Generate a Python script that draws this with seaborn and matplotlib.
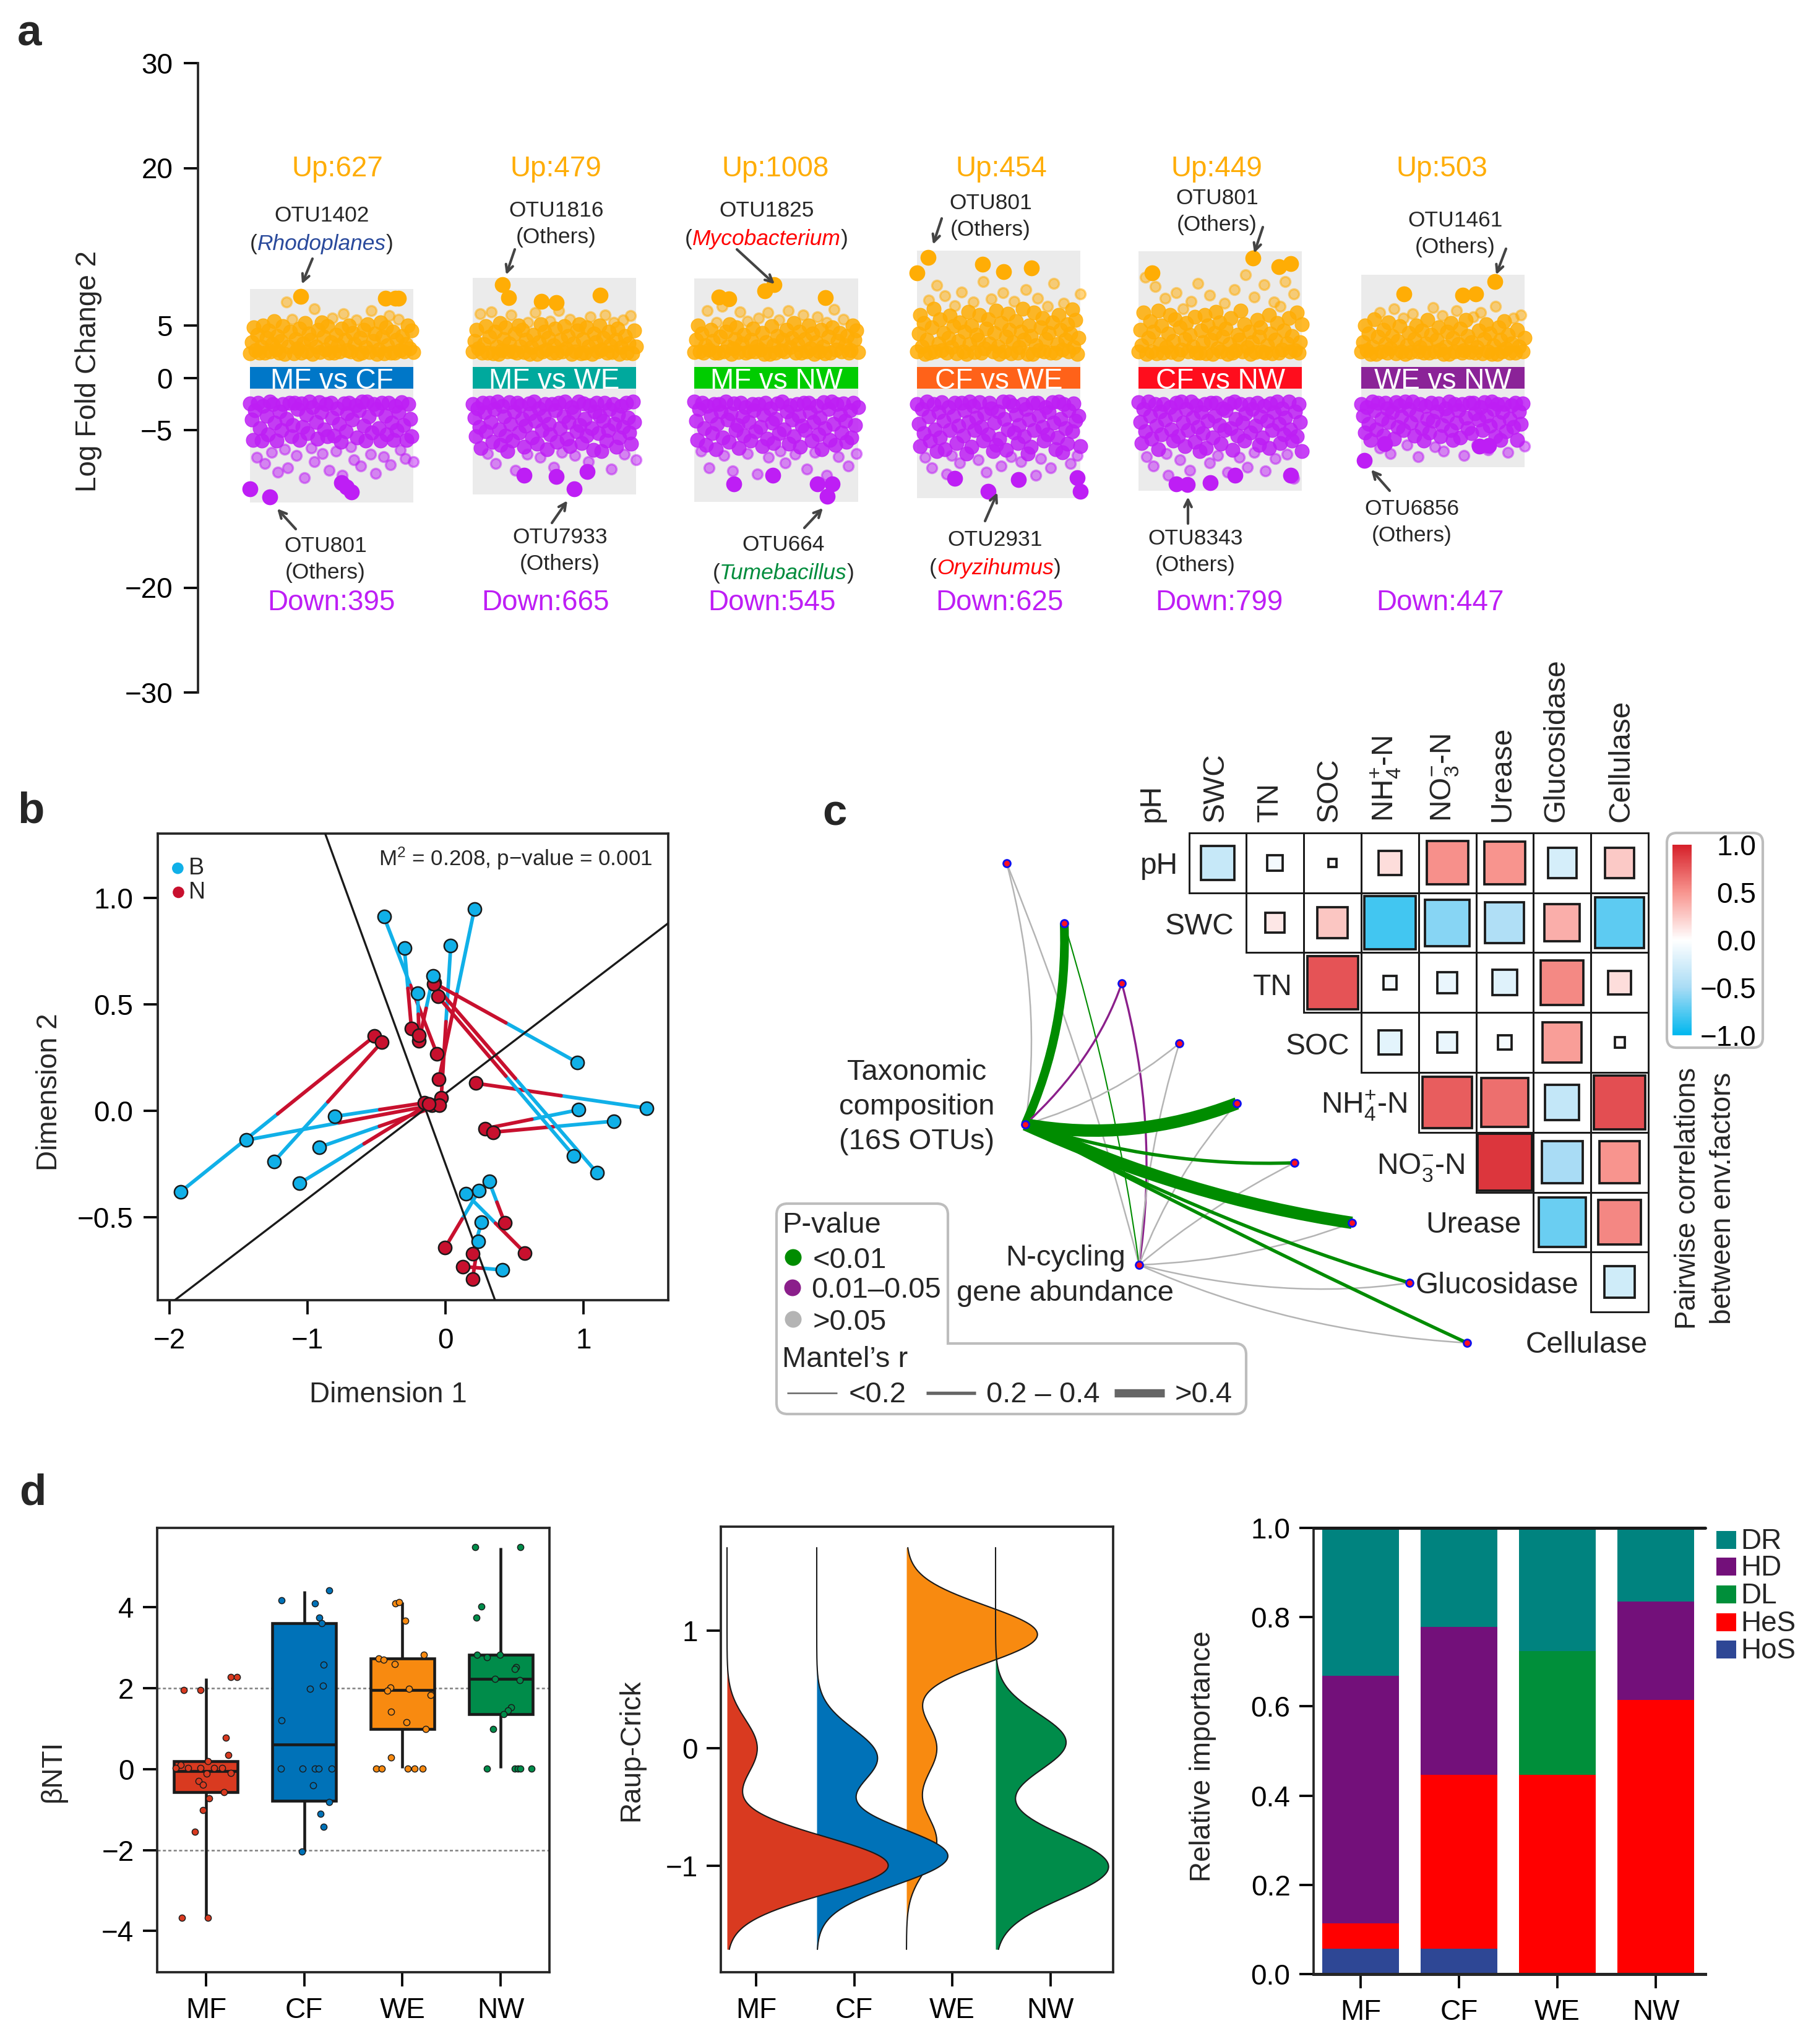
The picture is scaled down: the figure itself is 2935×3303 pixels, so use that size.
import numpy as np
import pandas as pd
import matplotlib.pyplot as plt
import seaborn as sns
from matplotlib.colors import LinearSegmentedColormap, ListedColormap, Normalize
from matplotlib.cm import ScalarMappable
from matplotlib.patches import FancyBboxPatch, PathPatch, Rectangle
from matplotlib.path import Path

W, H = 2935, 3303

# ---------- panel a: volcano-like strips ----------
comparisons = ['MF vs CF', 'MF vs WE', 'MF vs NW', 'CF vs WE', 'CF vs NW', 'WE vs NW']
band_colors = ['#0077C8', '#00A99D', '#00CC00', '#FF6219', '#FF0D1D', '#8B2398']
up_counts = ['Up:627', 'Up:479', 'Up:1008', 'Up:454', 'Up:449', 'Up:503']
down_counts = ['Down:395', 'Down:665', 'Down:545', 'Down:625', 'Down:799', 'Down:447']
gray_top = [8.44, 9.5, 9.44, 12.15, 12.04, 9.8]
gray_bot = [-11.9, -11.15, -11.8, -11.45, -10.74, -8.5]
core_top = [5.4, 5.2, 5.2, 6.7, 6.4, 5.6]
core_bot = [-6.2, -7.0, -6.9, -7.3, -7.0, -6.0]

up_mf_cf = [2.35,3.4,4.8,2.6,4.1,2.4,3.0,5.0,2.4,3.8,4.5,2.5,3.2,5.4,2.7,4.0,2.4,3.5,4.9,2.3,7.2,3.0,4.4,5.6,2.35,3.7,2.8,4.7,2.4,3.3,
            5.2,2.5,4.2,3.6,2.3,6.6,3.0,4.6,2.45,5.3,3.9,2.7,4.9,2.4,3.4,5.7,2.4,4.1,3.1,2.5,4.7,6.1,3.6,2.6,5.0,2.5,4.3,3.2,5.5,2.3,
            3.8,2.4,4.6,2.9,5.1,2.45,6.4,3.5,4.2,2.3,2.7,5.3,3.9,2.35,4.8,3.1,5.9,2.4,4.4,2.4,3.6,5.6,2.6,4.0,2.5,3.2,5.0,2.8,4.5,2.45]
up_mf_we = [2.5,3.5,4.6,2.8,6.1,2.4,3.2,4.9,2.4,3.9,6.3,2.35,4.4,3.0,2.3,5.2,2.6,3.7,4.8,2.5,3.3,6.0,2.5,4.2,2.4,5.0,3.0,4.6,2.45,3.6,
            5.3,2.3,2.9,4.1,6.2,2.3,3.4,5.1,2.5,4.4,2.7,3.8,5.4,2.4,3.1,4.7,2.4,6.4,3.6,2.5,4.9,2.8,4.0,5.6,2.3,3.3,2.5,4.5,5.1,2.35,
            3.7,2.4,4.8,3.0,5.8,2.3,4.2,3.4,2.5,5.0,2.7,3.8,6.0,2.4,4.4,3.1,2.45,5.3,3.6,4.7,2.3,2.9,5.5,4.0,2.4,3.3,5.9,2.35,4.5,3.0]
up_mf_nw = [2.45,3.6,5.0,2.5,4.2,2.4,3.1,6.4,2.7,4.6,3.5,2.4,5.3,2.4,3.9,6.8,2.5,4.4,3.0,5.1,2.3,2.8,3.7,4.8,2.45,6.3,3.3,4.1,2.4,5.4,
            2.5,3.6,4.7,2.5,3.0,5.7,2.7,4.3,2.3,3.4,6.2,2.3,4.9,3.1,2.4,4.0,5.5,2.6,3.6,2.5,4.6,6.4,2.9,3.8,5.2,2.4,3.2,4.4,2.4,6.0,
            3.7,2.5,5.0,2.8,4.2,2.3,3.4,5.8,2.5,4.6,3.0,2.35,5.3,3.9,2.4,4.8,6.5,2.7,3.5,4.3,2.5,5.6,3.1,4.0,2.4,2.6,5.0,3.6,4.5,2.45]
up_cf_we = [2.5,4.2,6.0,3.0,5.2,2.3,3.6,7.4,2.4,4.8,6.6,2.5,8.8,3.3,5.6,2.6,4.3,7.8,2.4,3.8,5.9,2.9,4.9,6.9,2.35,3.5,5.3,8.2,2.5,4.4,
            2.3,6.3,3.2,5.0,7.2,2.45,4.1,3.6,6.0,2.4,9.2,2.8,4.7,5.6,3.3,7.5,2.5,4.3,6.4,3.0,2.3,5.2,8.1,2.5,3.9,6.1,4.6,2.35,3.4,7.3,
            5.4,2.4,2.9,4.4,6.6,3.6,8.4,2.3,5.0,4.0,2.3,6.2,3.1,7.6,2.6,4.8,5.7,2.5,3.7,6.8,4.3,2.4,5.3,9.0,2.4,3.2,6.0,4.6,2.7,7.1,
            3.6,5.1,2.5,4.2,6.5,2.9,5.5,2.3,3.8,8.0]
up_cf_nw = [2.5,4.6,3.1,6.2,9.6,2.3,3.8,5.4,2.5,4.4,8.7,2.35,6.4,3.2,5.0,2.4,7.6,2.9,4.2,6.0,2.45,3.5,5.6,8.1,2.3,4.8,2.7,6.6,3.7,5.2,
            2.5,4.1,7.3,3.0,5.8,2.4,9.0,2.4,4.5,3.4,6.0,2.35,5.0,7.9,3.6,2.3,4.3,6.3,2.8,5.3,2.5,3.9,7.1,4.7,2.3,3.2,5.7,2.4,8.4,2.6,
            4.1,3.6,6.4,2.5,5.1,9.8,2.9,4.4,2.3,3.4,7.7,2.45,5.5,3.9,4.8,2.5,8.9,2.4,3.1,6.0,4.2,2.35,7.2,3.6,5.2,2.4,6.8,2.7,4.5,9.2,
            3.3,5.7,2.5,4.0,8.0,2.6,6.2,2.4,3.4,5.1]
up_we_nw = [2.5,3.4,5.0,2.6,4.2,2.3,3.0,5.6,2.3,3.9,6.2,2.5,4.6,3.2,2.4,5.3,2.8,4.0,6.6,2.35,3.5,4.9,2.5,5.7,2.3,3.1,4.3,2.45,6.1,3.7,
            5.0,2.5,2.9,4.5,2.4,3.3,5.5,2.4,4.1,6.7,2.5,3.6,4.8,2.7,5.9,2.3,3.0,4.4,2.3,5.2,3.8,2.5,6.4,3.2,4.7,2.4,2.6,5.5,4.0,2.45,
            3.4,5.8,2.4,2.9,4.5,6.2,2.35,3.7,5.1,2.5,4.2,2.3,3.1,6.8,2.3,4.8,3.6,2.5,5.4,2.8,4.1,2.4,3.3,5.7,2.4,4.6,3.0,6.0,2.5,3.8]
down_mf_cf = [-2.45,-4.0,-5.9,-3.1,-7.6,-2.4,-4.8,-6.0,-2.7,-8.2,-3.6,-5.4,-2.3,-7.1,-2.5,-4.3,-6.0,-9.0,-3.2,-5.0,-2.5,-6.8,-3.9,-8.6,-2.4,-5.6,-4.5,-2.4,-7.4,-3.0,
              -5.9,-2.45,-4.7,-9.5,-3.5,-5.3,-2.3,-6.7,-2.8,-8.0,-4.2,-5.8,-2.35,-3.3,-7.2,-4.9,-2.5,-5.6,-8.8,-2.4,-3.8,-5.5,-7.0,-2.9,-4.4,-6.1,-9.3,-2.45,-5.1,-3.4,
              -2.4,-6.6,-4.0,-7.8,-2.6,-5.7,-3.1,-8.4,-2.3,-4.6,-6.0,-2.3,-3.7,-7.3,-5.2,-2.5,-9.1,-3.0,-4.8,-6.0,-2.4,-7.5,-3.6,-5.4,-2.4,-8.3,-4.3,-5.9,-2.7,-5.0,
              -3.3,-6.9,-2.35,-4.5,-7.7,-5.9,-2.5,-3.9,-5.6,-8.0]
down_mf_we = [-2.5,-3.8,-5.6,-2.9,-4.7,-6.7,-2.4,-3.3,-5.1,-7.2,-2.4,-4.2,-6.1,-3.0,-8.2,-2.3,-4.9,-6.4,-2.7,-3.7,-5.5,-7.0,-2.35,-4.4,-6.0,-3.2,-8.8,-2.4,-5.2,-2.6,
              -3.9,-6.6,-4.6,-7.3,-2.45,-3.4,-5.7,-2.3,-4.1,-6.3,-2.9,-7.6,-5.0,-3.6,-2.5,-6.8,-4.4,-5.4,-2.5,-8.5,-3.1,-6.1,-2.4,-4.8,-7.1,-3.7,-2.3,-5.8,-4.2,-6.5,
              -2.8,-3.3,-7.4,-5.1,-2.3,-4.5,-6.2,-2.45,-3.9,-5.5,-8.0,-2.6,-4.8,-6.9,-3.2,-2.4,-5.3,-3.6,-7.0,-4.1,-2.4,-6.0,-5.0,-3.0,-8.7,-2.5,-4.4,-6.6,-3.5,-5.7,
              -2.7,-4.7,-7.3,-2.4,-3.8,-5.2,-6.3,-2.3,-4.2,-7.8]
down_mf_nw = [-2.3,-4.1,-5.9,-3.0,-7.0,-2.4,-4.8,-6.4,-2.7,-8.6,-3.6,-5.3,-2.5,-6.8,-4.4,-2.5,-3.2,-5.7,-7.4,-2.3,-4.0,-6.1,-3.4,-8.9,-2.45,-5.0,-4.5,-6.7,-2.4,-3.7,
              -5.5,-2.8,-7.2,-4.2,-6.0,-2.5,-3.1,-5.1,-9.2,-2.5,-4.7,-6.5,-3.5,-2.4,-5.8,-7.6,-2.9,-4.3,-6.2,-3.9,-2.45,-5.3,-7.0,-2.3,-4.9,-8.1,-3.2,-6.3,-2.6,-4.0,
              -5.6,-7.3,-2.5,-3.6,-6.6,-4.6,-2.4,-5.0,-8.7,-2.4,-3.3,-6.0,-4.2,-7.1,-2.7,-5.4,-3.8,-6.8,-2.35,-4.8,-9.3,-3.0,-5.9,-2.3,-4.4,-6.4,-2.5,-7.5,-3.5,-5.2,
              -2.45,-4.1,-6.1,-8.4,-3.1,-5.7,-2.4,-4.5,-7.2,-2.8]
down_cf_we = [-2.5,-4.4,-6.5,-3.0,-5.3,-7.6,-2.3,-3.7,-6.0,-8.6,-2.5,-4.9,-7.0,-3.3,-5.7,-2.35,-4.1,-6.8,-9.2,-2.8,-5.0,-7.4,-3.6,-2.4,-6.2,-4.6,-8.1,-2.4,-5.5,-3.1,
              -7.2,-4.2,-2.3,-6.6,-2.7,-5.0,-3.8,-7.8,-2.35,-4.7,-6.0,-3.4,-9.0,-5.4,-2.4,-2.9,-7.0,-4.3,-6.4,-3.2,-5.8,-8.4,-2.3,-3.9,-6.9,-4.9,-2.3,-7.5,-2.6,-5.2,
              -3.5,-6.2,-4.5,-8.0,-2.5,-5.6,-3.0,-7.2,-4.0,-6.6,-2.4,-5.0,-9.3,-2.4,-3.6,-7.7,-4.7,-6.0,-2.8,-5.4,-3.3,-8.6,-2.35,-4.3,-6.8,-5.7,-2.3,-3.9,-7.1,-2.5,
              -4.8,-6.3,-3.1,-8.2,-5.1,-2.45,-4.1,-7.4,-3.6,-6.5]
down_cf_nw = [-2.35,-4.2,-6.2,-3.0,-5.1,-7.5,-2.3,-3.6,-5.8,-8.4,-2.5,-4.6,-6.8,-3.2,-5.4,-2.5,-4.0,-7.2,-9.3,-2.8,-4.9,-6.0,-3.5,-2.4,-5.6,-7.8,-2.3,-4.3,-6.5,-3.0,
              -5.0,-8.8,-2.3,-3.8,-6.1,-2.6,-4.7,-7.0,-3.3,-5.3,-2.5,-6.7,-4.1,-8.1,-2.4,-5.7,-3.6,-2.4,-7.4,-4.5,-6.3,-2.9,-5.0,-3.1,-9.0,-2.45,-4.8,-6.9,-2.3,-3.9,
              -5.5,-7.6,-2.5,-4.3,-6.0,-3.4,-8.5,-2.5,-5.2,-3.0,-7.1,-4.6,-2.4,-6.4,-3.7,-5.7,-2.7,-8.9,-4.1,-6.7,-2.45,-5.0,-3.3,-7.7,-2.3,-4.4,-6.2,-2.9,-5.4,-3.8,
              -7.3,-2.3,-4.9,-6.0,-9.6,-3.2,-5.6,-2.5,-4.2,-7.0]
down_we_nw = [-2.5,-3.6,-5.2,-2.8,-4.4,-5.9,-2.3,-3.1,-4.9,-2.4,-6.7,-3.9,-5.5,-2.4,-2.9,-4.2,-7.2,-3.3,-5.8,-2.35,-4.7,-2.6,-3.7,-5.0,-2.3,-6.4,-3.0,-4.3,-2.3,-5.5,
              -3.5,-7.5,-2.5,-4.8,-6.0,-2.7,-3.9,-5.2,-2.4,-4.1,-6.6,-3.2,-2.45,-5.6,-4.5,-7.0,-2.9,-3.6,-2.3,-5.0,-5.9,-2.5,-4.3,-3.1,-5.7,-2.5,-7.4,-3.8,-4.8,-2.4,
              -5.3,-2.4,-3.4,-6.4,-4.0,-2.8,-5.0,-2.35,-3.6,-6.9,-4.6,-2.3,-3.0,-5.6,-2.5,-4.2,-5.9,-3.3,-2.5,-5.1,-7.1,-3.9,-2.6,-4.7,-2.4,-5.9,-3.2,-4.4,-2.45,-6.5]
up_values = [up_mf_cf, up_mf_we, up_mf_nw, up_cf_we, up_cf_nw, up_we_nw]
down_values = [down_mf_cf, down_mf_we, down_mf_nw, down_cf_we, down_cf_nw, down_we_nw]

# highlighted OTUs: position along strip (%), log fold change
big_x = [[31,83,89,91,0,12,56,59,62], [18,22,42,51,78,31.5,51,70,62], [15,21,43,48.5,80,24,48,75,84,81],
         [7,0,40,53,70,23,43.5,62,98,100], [70,86,93,8.5,23,30,44,59,93], [26,62,70,82,2,14.5,72.5,78]]
big_y = [[7.74,7.56,7.6,7.56,-10.6,-11.35,-10.0,-10.4,-10.9], [8.9,7.66,7.3,7.15,7.9,-9.3,-9.4,-8.95,-10.6],
         [7.7,7.5,8.3,8.85,7.66,-10.1,-9.3,-10.1,-10.1,-11.3], [11.5,10.0,10.8,10.1,10.5,-9.6,-10.8,-9.7,-9.5,-10.8],
         [11.4,10.6,10.9,10.0,-10.1,-10.2,-10.0,-9.3,-9.3], [8.0,7.9,8.0,9.2,-7.9,-6.3,-6.5,-6.45]]

# OTU labels: (centre x, y of name line, name, taxon, colour)
otu_labels = [(520,346,'OTU1402','Rhodoplanes','#2A4A9C'), (899,337,'OTU1816','Others',None), (1239,338,'OTU1825','Mycobacterium','#FF0000'),
              (1601,326,'OTU801','Others',None), (1967,318,'OTU801','Others',None), (2352,354,'OTU1461','Others',None),
              (526,880,'OTU801','Others',None), (905,865,'OTU7933','Others',None), (1266,878,'OTU664','Tumebacillus','#008C3C'),
              (1608,870,'OTU2931','Oryzihumus','#FF0000'), (1932,868,'OTU8343','Others',None), (2282,819,'OTU6856','Others',None)]
arrows_from = [(505,418),(832,403),(1191,403),(1522,353),(2041,367),(2434,402),(478,855),(892,845),(1300,853),(1592,842),(1920,846),(2246,793)]
arrows_to = [(488,459),(818,444),(1252,459),(1508,395),(2027,409),(2418,444),(448,822),(917,809),(1330,821),(1612,796),(1920,803),(2216,759)]

# ---------- panel b: procrustes ----------
blue_x = [-.446,-.298,.209,.038,-.089,-.202,.957,1.455,.964,1.221,.930,1.098,-.803,-1.444,-1.918,-1.242,-.913,-1.057,.316,.244,.148,.261,.237,.412]
blue_y = [.911,.763,.946,.775,.633,.553,.226,.012,.004,-.049,-.212,-.292,-.027,-.138,-.380,-.238,-.171,-.341,-.333,-.374,-.389,-.524,-.615,-.748]
red_x = [-.062,-.247,-.048,-.031,-.192,-.192,-.082,.220,.288,.343,-.055,-.085,-.151,-.099,-.515,-.463,-.045,-.123,.429,-.003,.576,.196,.196,.127]
red_y = [.267,.387,.148,.062,.329,.354,.600,.129,-.084,-.101,.537,.595,.037,.025,.350,.321,.025,.031,-.526,-.643,-.668,-.672,-.791,-.732]
axis1_x, axis1_y = [-.871, .360], [1.300, -.892]
axis2_x, axis2_y = [-1.966, 1.616], [-.892, .882]

# ---------- panel c: correlations and Mantel links ----------
env_names = ['pH', 'SWC', 'TN', 'SOC', 'NH$_4^{+}$-N', 'NO$_3^{-}$-N', 'Urease', 'Glucosidase', 'Cellulase']
corr = [[-.33,-.07,.02,.16,.52,.50,-.25,.25],
        [np.nan,.11,.27,-.80,-.60,-.46,.38,-.72],
        [np.nan,np.nan,.78,-.05,-.12,-.18,.55,.16],
        [np.nan,np.nan,np.nan,-.16,-.12,-.06,.46,.03],
        [np.nan,np.nan,np.nan,np.nan,.74,.66,-.35,.80],
        [np.nan,np.nan,np.nan,np.nan,np.nan,.90,-.50,.50],
        [np.nan,np.nan,np.nan,np.nan,np.nan,np.nan,-.68,.56],
        [np.nan,np.nan,np.nan,np.nan,np.nan,np.nan,np.nan,-.28]]
col_label_x = [1861,1964,2052,2148,2240,2334,2428,2515,2620]
row_label_x = [1904,1995,2089,2181,2274,2367,2459,2552,2663]
row_label_y = [1397,1494,1593,1688,1784,1883,1977,2074,2170]
node_x = [1627,1720,1813,1906,1999,2092,2185,2278,2371]
node_y = [1395,1492,1589,1686,1783,1879,1976,2073,2170]
tax_node = (1657,1817)
ncyc_node = (1841,2044)
tax_ctrl = [(1687,1622),(1726,1664),(1770,1713),(1798,1776),(1831,1848),(1879,1887),(1919,1936),(1975,1983),(2013,2004)]
ncyc_ctrl = [(1753,1705),(1803,1763),(1875,1817),(1853,1858),(1897,1896),(1952,1950),(2024,2037),(2074,2103),(2085,2153)]
GREEN, PURPLE, GRAY = '#008C00', '#8B1F8B', '#B4B4B4'
tax_color = [GRAY,GREEN,PURPLE,GRAY,GREEN,GREEN,GREEN,GREEN,GREEN]
tax_width = [.6,3.4,.8,.6,4.8,1.3,4.8,1.3,1.3]
ncyc_color = [GRAY,GREEN,PURPLE,GRAY,GRAY,GRAY,GRAY,GRAY,GRAY]
ncyc_width = [.6,.5,.8,.6,.6,.6,.6,.6,.6]

# ---------- panel d ----------
groups = ['MF', 'CF', 'WE', 'NW']
group_colors = ['#D93A20', '#0072B8', '#F88A10', '#008C4A']
box_mf = [-3.67,-.57,-.05,.2,2.25]
box_cf = [-2.04,-.79,.61,3.61,4.4]
box_we = [.02,.99,1.96,2.74,4.12]
box_nw = [.02,1.35,2.23,2.82,5.47]

nti_mf = [1.95,1.95,2.28,2.28,.77,.35,.2,.1,.02,.02,.02,.02,.02,-.1,-.11,-.3,-.38,-.57,-.72,-1.01,-1.55,-3.67,-3.67]
off_mf = [-.225,-.056,.253,.313,.205,.229,.02,-.257,-.309,-.185,-.056,.08,.165,.253,.004,-.076,-.032,.185,.032,-.032,-.112,-.245,.02]
nti_cf = [4.17,4.09,4.42,3.74,3.61,2.58,2.06,1.99,1.21,.01,.01,.01,.01,.01,-.4,-.81,-1.11,-1.43,-2.04]
off_cf = [-.229,.112,.257,.153,.177,.197,.193,.056,-.229,-.237,-.016,.112,.145,.281,.088,.257,.169,.197,-.024]
nti_we = [4.10,4.13,3.67,2.83,2.73,2.71,2.59,2.01,1.94,1.99,1.83,1.42,1.16,.99,.29,.01,.01,.01,.01,.01]
off_we = [-.072,-.032,.032,.221,-.241,-.193,-.076,-.120,-.153,.068,.289,-.116,.044,.237,-.116,-.265,-.213,.056,.124,.205]
nti_nw = [5.48,5.48,4.02,3.74,2.82,2.77,2.83,2.52,2.47,2.23,2.2,1.52,1.45,1.35,.99,.01,.01,.01,.01,.01]
off_nw = [-.261,.201,-.197,-.249,-.237,-.141,-.004,.157,.145,-.06,.193,.108,.076,.028,-.076,-.141,.145,.173,.201,.313]

# Raup-Crick values per group
rc_mf = [-1.0]*16 + [0.0]*3
rc_cf = [-.92]*13 + [-.08]*6
rc_we = [.97]*13 + [0.0]*3 + [-.8]*3
rc_nw = [-1.1]*6 + [-.92]*6 + [.05]*7
rc_baseline = [1175, 1320, 1465, 1609]

process_names = ['DR', 'HD', 'DL', 'HeS', 'HoS']
process_colors = ['#00837F', '#73107A', '#008F3A', '#FF0000', '#2E4795']
dr = [.332, .222, .276, .165]
hd = [.554, .332, 0, .221]
dl = [0, 0, .278, 0]
hes = [.057, .389, .446, .614]
hos = [.057, .057, 0, 0]

sns.set_theme(style='ticks')
plt.rcParams['font.family'] = ['Liberation Sans', 'DejaVu Sans']
plt.rcParams['mathtext.default'] = 'regular'
plt.rcParams['axes.linewidth'] = .9
plt.rcParams['xtick.major.width'] = .9
plt.rcParams['ytick.major.width'] = .9
plt.rcParams['xtick.major.size'] = 5.5
plt.rcParams['ytick.major.size'] = 5.5
plt.rcParams['xtick.labelsize'] = 11
plt.rcParams['ytick.labelsize'] = 11
plt.rcParams['xtick.color'] = 'black'
plt.rcParams['ytick.color'] = 'black'

fig = plt.figure(figsize=(W/300, H/300), dpi=300, facecolor='white')


def px_axes(x0, y0, x1, y1, **kw):
    # axes from pixel box, y measured from the top
    return fig.add_axes([x0/W, 1-y1/H, (x1-x0)/W, (y1-y0)/H], **kw)


# overlay in pixel coordinates for labels, arrows and the network
ov = fig.add_axes([0, 0, 1, 1], zorder=10)
ov.set_xlim(0, W)
ov.set_ylim(H, 0)
ov.axis('off')


def T(x, y, s, size=11, ha='center', va='center', **kw):
    return ov.text(x, y + 3, s, fontsize=size, ha=ha, va=va, **kw)


def taxon_line(cx, y, name, color):
    # "(Genus)" with coloured italic genus, centred on cx
    rend = fig.canvas.get_renderer()
    parts = [T(0, y, '(', 8.5, ha='left', va='baseline'), T(0, y, name, 8.5, ha='left', va='baseline', color=color, style='italic'),
             T(0, y, ')', 8.5, ha='left', va='baseline')]
    widths = [p.get_window_extent(rend).width for p in parts]
    x = cx - sum(widths)/2
    for p, w in zip(parts, widths):
        p.set_x(x)
        x += w


for letter, lx, ly in [('a',48,52),('b',50,1309),('c',1349,1312),('d',53,2411)]:
    T(lx, ly, letter, 17, fontweight='bold')

# panel a
ax = px_axes(320, 102, 330, 1119)
ax.set_ylim(-30, 30)
ax.set_xticks([])
ax.set_yticks([-30,-20,-5,0,5,20,30])
ax.tick_params(axis='y', pad=4.3)
sns.despine(ax=ax, right=True, top=True, bottom=True)
ax.patch.set_alpha(0)
T(143, 597, 'Log Fold Change 2', rotation=90)

rect_left = [404, 764, 1122, 1482, 1840, 2200]
rect_right = [668, 1028, 1387, 1746, 2104, 2464]
up_x = [545, 898, 1253, 1618, 1966, 2330]
down_x = [535, 881, 1247, 1615, 1970, 2328]
for i, name in enumerate(comparisons):
    a = px_axes(rect_left[i], 102, rect_right[i], 1119)
    a.axis('off')
    a.axhspan(gray_bot[i], gray_top[i], color='#EBEBEB', lw=0, zorder=0)
    band = a.axhspan(-1.03, 1.03, color=band_colors[i], lw=0, zorder=3)
    t = a.text(50, -.3, name, color='white', fontsize=11, ha='center', va='center', zorder=4)
    t.set_clip_path(band)
    for vals, col in [(up_values[i], '#FFAD05'), (down_values[i], '#BE1EF5')]:
        vals = np.array(vals)
        x = np.arange(len(vals)) * 100 / (len(vals) - 1)
        core = (vals <= core_top[i]) & (vals >= core_bot[i])
        sns.scatterplot(x=x[~core], y=vals[~core], color=col, s=15, alpha=.5, edgecolor=col, linewidth=.8,
                        clip_on=False, legend=False, zorder=2, ax=a)
        sns.scatterplot(x=x[core], y=vals[core], color=col, s=30, alpha=.85, edgecolor=col, linewidth=.3,
                        clip_on=False, legend=False, zorder=2, ax=a)
    bx, by = np.array(big_x[i]), np.array(big_y[i])
    sns.scatterplot(x=bx[by > 0], y=by[by > 0], color='#FFAD05', s=38, linewidth=0, clip_on=False, legend=False, zorder=2, ax=a)
    sns.scatterplot(x=bx[by < 0], y=by[by < 0], color='#BE1EF5', s=38, linewidth=0, clip_on=False, legend=False, zorder=2, ax=a)
    a.set_xlim(0, 100)
    a.set_ylim(-30, 30)
    T(up_x[i], 270, up_counts[i], color='#FFAD05')
    T(down_x[i], 971, down_counts[i], color='#BE1EF5')

fig.canvas.draw()
for cx, y, otu, taxon, col in otu_labels:
    T(cx, y, otu, 8.5)
    if col is None:
        T(cx, y+43, '(' + taxon + ')', 8.5)
    else:
        taxon_line(cx, y+55, taxon, col)
for p0, p1 in zip(arrows_from, arrows_to):
    ov.annotate('', xy=p1, xytext=p0, arrowprops=dict(arrowstyle='->', color='#444444', lw=1, mutation_scale=7, shrinkA=0, shrinkB=0))

# panel b
ax = px_axes(255, 1347, 1080, 2101)
bx, by, rx, ry = map(np.array, (blue_x, blue_y, red_x, red_y))
for k in range(len(bx)):
    mx, my = (bx[k]+rx[k])/2, (by[k]+ry[k])/2
    sns.lineplot(x=[bx[k], mx], y=[by[k], my], color='#10B0E8', linewidth=1.4, sort=False, estimator=None, ax=ax, zorder=2)
    sns.lineplot(x=[mx, rx[k]], y=[my, ry[k]], color='#C8102E', linewidth=1.4, sort=False, estimator=None, ax=ax, zorder=2)
ax.plot(axis1_x, axis1_y, color='k', lw=.8, zorder=3)
ax.plot(axis2_x, axis2_y, color='k', lw=.8, zorder=3)
sns.scatterplot(x=red_x, y=red_y, color='#C8102E', s=26, edgecolor='k', linewidth=.6, legend=False, zorder=4, ax=ax)
sns.scatterplot(x=blue_x, y=blue_y, color='#10B0E8', s=26, edgecolor='k', linewidth=.6, legend=False, zorder=5, ax=ax)
ax.scatter([-1.94, -1.935], [1.139, 1.026], c=['#10B0E8', '#C8102E'], s=20, linewidth=0)
ax.text(-1.86, 1.139, 'B', fontsize=9, va='center')
ax.text(-1.86, 1.026, 'N', fontsize=9, va='center')
ax.text(1.50, 1.185, 'M$^2$ = 0.208, p\u2212value = 0.001', fontsize=8.4, ha='right', va='center')
ax.set_xlim(-2.085, 1.614)
ax.set_ylim(-.89, 1.302)
ax.set_xticks([-2, -1, 0, 1])
ax.set_yticks([-.5, 0, .5, 1])
ax.set_yticklabels(['\u22120.5', '0.0', '0.5', '1.0'])
ax.tick_params(axis='x', length=5.5, pad=5)
ax.tick_params(axis='y', length=5.5, pad=4)
T(627, 2251, 'Dimension 1')
T(80, 1762, 'Dimension 2', rotation=90)

# panel c: correlation triangle, one outlined cell per pair
corr_arr = np.array(corr)
ax = px_axes(1921.5, 1346, 2664, 2120)
sns.heatmap(np.zeros_like(corr_arr), mask=np.isnan(corr_arr), cmap=ListedColormap(['white']), cbar=False,
            xticklabels=False, yticklabels=False, ax=ax)
corr_cmap = LinearSegmentedColormap.from_list('corr', [(0,'#00B7EE'),(.25,'#A9DCF5'),(.5,'#FFFFFF'),(.75,'#F8958F'),(1,'#D6202A')])
norm = Normalize(-1, 1)
for i in range(corr_arr.shape[0]):
    for j in range(corr_arr.shape[1]):
        if not np.isnan(corr_arr[i, j]):
            ax.add_patch(Rectangle((j, i), 1, 1, fc='none', ec='k', lw=.7, clip_on=False, zorder=2))
            f = np.sqrt(abs(corr_arr[i, j]))
            ax.add_patch(Rectangle((j+.5-f/2, i+.5-f/2), f, f, fc=corr_cmap(norm(corr_arr[i, j])), ec='k', lw=.9, zorder=3))
for k, name in enumerate(env_names):
    T(col_label_x[k], 1325, name, 11.5, rotation=90, va='bottom')
    T(row_label_x[k], row_label_y[k], name, 11.5, ha='right')

# colour bar
ov.add_patch(FancyBboxPatch((2694, 1346), 155, 347, boxstyle='round,pad=0,rounding_size=16', fc='none', ec='#BDBDBD', lw=1))
cax = px_axes(2703, 1365, 2734, 1673)
cb = fig.colorbar(ScalarMappable(norm=norm, cmap=corr_cmap), cax=cax)
cb.outline.set_visible(False)
cb.set_ticks([-1, -.5, 0, .5, 1])
cb.set_ticklabels(['\u22121.0', '\u22120.5', '0.0', '0.5', '1.0'])
cax.tick_params(axis='y', color='white', direction='in', length=2, width=.6, pad=25, labelsize=11)
for lab in cax.get_yticklabels():
    lab.set_ha('right')
T(2728, 1933, 'Pairwise correlations', rotation=90)
T(2785, 1933, 'between env.factors', rotation=90)

# panel c: Mantel links
for source, ctrls, cols, widths in [(ncyc_node, ncyc_ctrl, ncyc_color, ncyc_width), (tax_node, tax_ctrl, tax_color, tax_width)]:
    for k in range(len(node_x)):
        path = Path([source, ctrls[k], (node_x[k], node_y[k])], [Path.MOVETO, Path.CURVE3, Path.CURVE3])
        ov.add_patch(PathPatch(path, fc='none', ec=cols[k], lw=widths[k], capstyle='butt'))
ov.scatter(list(node_x)+[tax_node[0], ncyc_node[0]], list(node_y)+[tax_node[1], ncyc_node[1]],
           c='#FF1020', edgecolors='#1010EE', s=8, linewidths=.7, zorder=5)
T(1482, 1730, 'Taxonomic', 11.3)
T(1482, 1786, 'composition', 11.3)
T(1482, 1842, '(16S OTUs)', 11.3)
T(1722, 2030, 'N-cycling', 11.3)
T(1722, 2087, 'gene abundance', 11.3)

# panel c: legend frame
r = 18
frame = [((1255+r,1945),Path.MOVETO), ((1532-r,1945),Path.LINETO), ((1532,1945),Path.CURVE3), ((1532,1945+r),Path.CURVE3),
         ((1532,2171),Path.LINETO), ((2014-r,2171),Path.LINETO), ((2014,2171),Path.CURVE3), ((2014,2171+r),Path.CURVE3),
         ((2014,2285-r),Path.LINETO), ((2014,2285),Path.CURVE3), ((2014-r,2285),Path.CURVE3), ((1255+r,2285),Path.LINETO),
         ((1255,2285),Path.CURVE3), ((1255,2285-r),Path.CURVE3), ((1255,1945+r),Path.LINETO), ((1255,1945),Path.CURVE3), ((1255+r,1945),Path.CURVE3)]
ov.add_patch(PathPatch(Path([f[0] for f in frame], [f[1] for f in frame]), fc='none', ec='#BDBDBD', lw=1))
T(1264, 1977, 'P-value', 11.3, ha='left')
ov.scatter([1282, 1281, 1282], [2032, 2081, 2132], c=[GREEN, PURPLE, GRAY], s=42, linewidths=0)
T(1314, 2034, '<0.01', 11.3, ha='left')
T(1311, 2082, '0.01\u20130.05', 11.3, ha='left')
T(1314, 2134, '>0.05', 11.3, ha='left')
T(1264, 2194, 'Mantel\u2019s r', 11.3, ha='left')
for x0, x1, lw in [(1272, 1353, .6), (1497, 1577, 1.3), (1801, 1882, 3.2)]:
    ov.plot([x0, x1], [2251, 2251], color='#666666', lw=lw, solid_capstyle='butt')
T(1372, 2251, '<0.2', 11.3, ha='left')
T(1594, 2251, '0.2 \u2013 0.4', 11.3, ha='left')
T(1899, 2251, '>0.4', 11.3, ha='left')

# panel d: beta NTI
ax = px_axes(254, 2469, 888, 3187)
box_df = pd.DataFrame({'group': np.repeat(groups, 5), 'nti': box_mf + box_cf + box_we + box_nw})
sns.boxplot(data=box_df, x='group', y='nti', hue='group', order=groups, hue_order=groups, palette=group_colors, legend=False,
            width=.65, whis=(0, 100), showcaps=False, fliersize=0, linecolor='k', linewidth=1.1, saturation=1, zorder=3, ax=ax)
ax.axhline(2, color='#808080', lw=.6, ls=(0, (2, 1.5)), zorder=1)
ax.axhline(-2, color='#808080', lw=.6, ls=(0, (2, 1.5)), zorder=1)
for k, (vals, off) in enumerate([(nti_mf, off_mf), (nti_cf, off_cf), (nti_we, off_we), (nti_nw, off_nw)]):
    sns.scatterplot(x=k + np.array(off), y=vals, color=group_colors[k], s=6, edgecolor='k', linewidth=.35, legend=False, zorder=5, ax=ax)
ax.set_xlim(-.497, 3.497)
ax.set_ylim(-5.02, 5.96)
ax.set_xticks(range(4))
ax.set_xticklabels(groups)
ax.set_yticks([-4, -2, 0, 2, 4])
ax.set_xlabel('')
ax.set_ylabel('')
ax.tick_params(axis='x', pad=4)
T(86, 2859, '\u03b2NTI', rotation=90)

# panel d: Raup-Crick half violins
ax = px_axes(1165, 2467, 1799, 3187)
ax.set_xlim(-.36, 3.64)
ax.set_ylim(-1.91, 1.889)
ax.set_xticks(range(4))
ax.set_xticklabels(groups)
ax.set_yticks([-1, 0, 1])
ax.set_yticklabels(['\u22121', '0', '1'])
ax.tick_params(axis='x', pad=4)
T(1020, 2825, 'Raup-Crick', rotation=90)
rc_sets = [rc_mf, rc_cf, rc_we, rc_nw]
for k in [2, 3, 1, 0]:
    a = px_axes(rc_baseline[k], 2467, rc_baseline[k]+400, 3187)
    a.axis('off')
    vals = np.array(rc_sets[k])
    factor = .245 / vals.std(ddof=1)
    sns.kdeplot(y=vals, bw_method=factor, cut=10, clip=(-1.715, 1.71), gridsize=300, fill=True, color=group_colors[k],
                alpha=1, linewidth=0, ax=a)
    sns.kdeplot(y=vals, bw_method=factor, cut=10, clip=(-1.715, 1.71), gridsize=300, color='k', linewidth=.5, clip_on=False, ax=a)
    a.set_xlim(0, 400/190)
    a.set_ylim(-1.91, 1.889)

# panel d: stacked importance
ax = px_axes(2123, 2469, 2756, 3190)
stack = [hos, hes, dl, hd, dr]
stack_names = ['HoS', 'HeS', 'DL', 'HD', 'DR']
cum = np.cumsum(np.array(stack), axis=0)
for k in range(len(stack)-1, -1, -1):
    col = process_colors[process_names.index(stack_names[k])]
    sns.barplot(x=groups, y=cum[k], order=groups, color=col, saturation=1, width=.78, linewidth=0, ax=ax)
ax.set_xlim(-.478, 3.503)
ax.set_ylim(0, 1)
ax.set_yticks([0, .2, .4, .6, .8, 1])
ax.set_yticklabels(['0.0', '0.2', '0.4', '0.6', '0.8', '1.0'])
ax.tick_params(axis='x', pad=4)
sns.despine(ax=ax, right=True, top=True)
ax.axhline(1, color='k', lw=1.2, clip_on=False, zorder=5)
ax.spines['bottom'].set_linewidth(1.2)
T(1944, 2835, 'Relative importance', rotation=90)
leg_y = [2474, 2517, 2562, 2607, 2651]
for k, name in enumerate(process_names):
    ov.add_patch(Rectangle((2774, leg_y[k]), 32, 29, fc=process_colors[k], ec='none'))
    T(2813, leg_y[k]+14, name, ha='left')

fig.savefig('out.png', dpi=300)
